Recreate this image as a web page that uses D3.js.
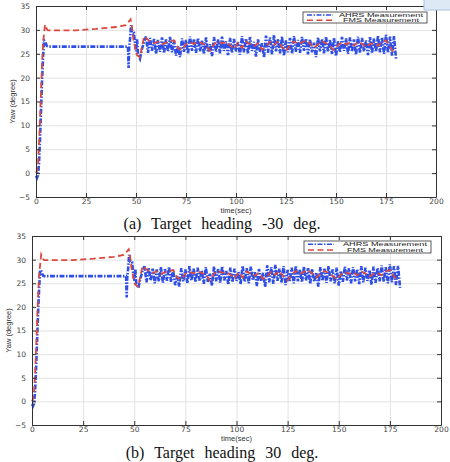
<!DOCTYPE html>
<meta charset="utf-8">
<html>
<head>
  <title>Yaw measurement</title>
  <style>
    body { margin: 0; background: #fff; }
    svg { display: block; }
    .tick text { font-family: 'DejaVu Sans', sans-serif; font-size: 7.5px; fill: #444; }
    .axis path, .axis line { stroke: #333; }
    .grid line { stroke: #e2e2e2; stroke-width: 1; }
    .grid path { display: none; }
    .caption { font-family: 'Liberation Serif', 'Times New Roman', serif; font-size: 16px; fill: #111; word-spacing: 6px; }
    .axislabel { font-family: 'Liberation Sans', Arial, sans-serif; font-size: 7.5px; fill: #333; text-anchor: middle; }
    .legend text { font-family: 'Liberation Sans', Arial, sans-serif; font-size: 5px; fill: #222; text-anchor: middle; }
  </style>
  <script src="https://d3js.org/d3.v7.min.js"></script>
</head>
<body>
<svg width="450" height="462"></svg>
<script>

// tick values
var xTicks = [0, 25, 50, 75, 100, 125, 150, 175, 200];
var yTicks = [-5, 0, 5, 10, 15, 20, 25, 30, 35];

// AHRS measurement (blue)
var ahrsTime = [0, 0.5, 1, 1.5, 2, 2.5, 3, 3.5, 4, 4.5, 5, 5.5, 6, 46, 46.3, 46.6, 47, 47.5, 48, 48.5, 49, 49.5, 50, 50.5, 51, 52, 53, 54,
  55, 56, 57, 58, 59, 60, 61, 62, 63, 64, 65, 66, 67, 68, 69, 70, 71, 72, 73, 74, 75, 76, 77, 78, 79, 80,
  81, 82, 83, 84, 85, 86, 87, 88, 89, 90, 91, 92, 93, 94, 95, 96, 97, 98, 99, 100, 101, 102, 103, 104, 105,
  106, 107, 108, 109, 110, 111, 112, 113, 114, 115, 116, 117, 118, 119, 120, 121, 122, 123, 124, 125, 126,
  127, 128, 129, 130, 131, 132, 133, 134, 135, 136, 137, 138, 139, 140, 141, 142, 143, 144, 145, 146, 147,
  148, 149, 150, 151, 152, 153, 154, 155, 156, 157, 158, 159, 160, 161, 162, 163, 164, 165, 166, 167, 168,
  169, 170, 171, 172, 173, 174, 175, 176, 177, 178, 179, 180];
var ahrsYaw = [-0.6, -1, -0.5, 2, 7, 13, 19, 24, 27.8, 27.6, 27, 26.6, 26.5, 26.5, 22, 26.5, 28, 31, 29.5, 29.2, 29.3, 27, 25.5, 28, 25, 24, 26, 27.5,
  28.6, 25.2, 28.3, 25.6, 28.1, 25.0, 27.9, 25.4, 28.4, 25.1, 28.0, 25.5, 28.5, 25.3, 27.8, 24.6, 26.5, 24.3, 28.2, 25.4, 27.9, 25.0, 28.6, 25.6, 28.1, 25.2,
  28.3, 25.5, 27.7, 24.9, 28.4, 25.3, 27.0, 24.5, 28.5, 25.4, 28.0, 25.1, 28.6, 25.6, 27.6, 24.7, 28.3, 25.2, 28.1, 25.5, 27.4, 24.8, 28.7, 25.3, 28.2,
  25.0, 28.5, 25.6, 27.5, 24.4, 28.0, 25.4, 27.2, 24.2, 28.8, 25.2, 28.4, 24.9, 28.9, 25.5, 28.1, 25.1, 28.6, 24.6, 27.8, 25.3,
  28.3, 25.0, 28.7, 25.4, 27.9, 25.2, 28.5, 25.6, 28.2, 24.9, 28.0, 25.3, 27.3, 24.3, 28.4, 25.5, 28.1, 25.1, 28.6, 25.4, 27.9,
  25.0, 28.3, 24.5, 27.6, 25.3, 28.5, 25.6, 28.2, 25.0, 28.4, 25.4, 28.0, 24.8, 28.6, 25.2, 28.3, 25.5, 27.8, 24.7, 28.5, 25.1,
  28.2, 25.4, 28.8, 25.3, 28.4, 25.0, 29.0, 25.2, 28.6, 24.6, 28.7, 24.0];

// FMS measurement (red)
var fmsTime = [0, 0.5, 1, 1.5, 2, 2.5, 3, 3.5, 4, 4.5, 5, 5.5, 6, 10, 20, 30, 40, 45, 47.3, 48, 48.7, 49.5, 50.3, 51, 52, 53, 54,
  55, 57, 59, 61, 63, 65, 67, 69, 71, 73, 75, 77, 79, 81, 83, 85, 87, 89, 91, 93, 95, 97, 99, 101, 103, 105, 107, 109,
  111, 113, 115, 117, 119, 121, 123, 125, 127, 129, 131, 133, 135, 137, 139, 141, 143, 145, 147, 149, 151, 153, 155, 157,
  159, 161, 163, 165, 167, 169, 171, 173, 175, 177, 179];
var fmsYaw = [0, 0.5, 2, 6, 11, 17, 22.5, 27, 29, 31.1, 30.6, 30.1, 29.9, 29.9, 29.9, 30.2, 30.6, 31, 32.2, 30.5, 28, 26.5, 24.8, 24.6, 24.3, 26.5, 28.6,
  28.3, 27.6, 27.2, 27.5, 27.0, 27.3, 27.6, 27.8, 26.2, 25.8, 27.0, 27.4, 27.1, 27.5, 27.2, 26.8, 25.6, 27.0, 27.6, 27.2, 27.4, 26.8, 26.0, 27.3, 26.2, 27.5, 27.0, 26.6,
  27.2, 25.9, 26.4, 27.5, 26.8, 27.6, 26.4, 25.6, 26.8, 27.6, 27.0, 27.4, 27.8, 27.1, 26.2, 27.0, 27.6, 27.2, 26.5, 25.8, 26.8, 27.4, 27.0, 27.3,
  26.7, 27.5, 27.1, 26.4, 27.0, 27.2, 26.7, 27.5, 27.8, 26.5, 25.2];

var legendLabels = ["AHRS Measurement", "FMS Measurement"];
var captions = ["(a)  Target  heading  -30  deg.", "(b)  Target  heading  30  deg."];

var blue = "#2f4fe6", red = "#d9483f";

var svg = d3.select("svg");

// the two panels are the same plot placed slightly differently
var panels = [
  {left: 36, right: 436, top: 6, bottom: 197, yTitleX: 12, capY: 229, caption: captions[0],
   legend: {x: 303, y: 12, w: 124, h: 11, tx: 381}},
  {left: 32, right: 441, top: 236, bottom: 425, yTitleX: 8, capY: 458, caption: captions[1],
   legend: {x: 304, y: 241, w: 127, h: 12, tx: 385}}
];

var ahrs = ahrsTime.map(function(t, i) { return [t, ahrsYaw[i]]; });
var fms = fmsTime.map(function(t, i) { return [t, fmsYaw[i]]; });

panels.forEach(function(p) {
  var w = p.right - p.left, h = p.bottom - p.top;
  var x = d3.scaleLinear().domain([0, 200]).range([0, w]);
  var y = d3.scaleLinear().domain([-5, 35]).range([h, 0]);

  var g = svg.append("g").attr("transform", "translate(" + p.left + "," + p.top + ")");

  // grid
  g.append("g").attr("class", "grid")
    .call(d3.axisBottom(x).tickValues(xTicks).tickSize(h).tickFormat(""));
  g.append("g").attr("class", "grid")
    .call(d3.axisLeft(y).tickValues(yTicks).tickSize(-w).tickFormat(""));

  var line = d3.line()
    .x(function(d) { return x(d[0]); })
    .y(function(d) { return y(d[1]); });

  g.append("path").datum(ahrs)
    .attr("d", line)
    .attr("fill", "none")
    .attr("stroke", blue)
    .attr("stroke-width", 2.6)
    .attr("stroke-dasharray", "5,1.5,1.5,1.5");

  g.append("path").datum(fms)
    .attr("d", line)
    .attr("fill", "none")
    .attr("stroke", red)
    .attr("stroke-width", 1.8)
    .attr("stroke-dasharray", "6,3.5");

  // axes with inward ticks, matlab style
  g.append("g").attr("class", "axis")
    .attr("transform", "translate(0," + h + ")")
    .call(d3.axisBottom(x).tickValues(xTicks).tickSizeInner(-4).tickSizeOuter(0).tickPadding(2));
  g.append("g").attr("class", "axis")
    .call(d3.axisTop(x).tickValues(xTicks).tickSizeInner(-4).tickSizeOuter(0).tickFormat(""));
  g.append("g").attr("class", "axis")
    .call(d3.axisLeft(y).tickValues(yTicks).tickSizeInner(-4).tickSizeOuter(0).tickPadding(6));
  g.append("g").attr("class", "axis")
    .attr("transform", "translate(" + w + ",0)")
    .call(d3.axisRight(y).tickValues(yTicks).tickSizeInner(-4).tickSizeOuter(0).tickFormat(""));

  g.append("text")
    .attr("class", "axislabel")
    .attr("x", w / 2)
    .attr("y", h + 15.5)
    .text("time(sec)");

  svg.append("text")
    .attr("class", "axislabel")
    .attr("transform", "translate(" + p.yTitleX + "," + (p.top + h / 2) + ") rotate(-90)")
    .attr("dy", "0.35em")
    .text("Yaw (degree)");

  // legend
  var lg = svg.append("g").attr("class", "legend");
  lg.append("rect")
    .attr("x", p.legend.x).attr("y", p.legend.y)
    .attr("width", p.legend.w).attr("height", p.legend.h)
    .attr("fill", "#fff").attr("stroke", "#333").attr("stroke-width", 0.8);
  var rowY = [p.legend.y + p.legend.h * 0.28, p.legend.y + p.legend.h * 0.74];
  lg.append("line")
    .attr("x1", p.legend.x + 4).attr("x2", p.legend.x + 30)
    .attr("y1", rowY[0]).attr("y2", rowY[0])
    .attr("stroke", blue).attr("stroke-width", 1.5).attr("stroke-dasharray", "5,1.5,1.5,1.5");
  lg.append("line")
    .attr("x1", p.legend.x + 4).attr("x2", p.legend.x + 30)
    .attr("y1", rowY[1]).attr("y2", rowY[1])
    .attr("stroke", red).attr("stroke-width", 1.5).attr("stroke-dasharray", "6,3.5");
  legendLabels.forEach(function(s, i) {
    lg.append("text")
      .attr("x", p.legend.tx)
      .attr("y", rowY[i])
      .attr("dy", "0.35em")
      .attr("textLength", i === 0 ? 84 : 76)
      .attr("lengthAdjust", "spacingAndGlyphs")
      .text(s);
  });

  svg.append("text")
    .attr("class", "caption")
    .attr("x", 222)
    .attr("y", p.capY)
    .attr("text-anchor", "middle")
    .text(p.caption);
});

// small light-blue box in the top right corner of the scan
svg.append("rect")
  .attr("x", 424).attr("y", -1).attr("width", 30).attr("height", 11)
  .attr("fill", "#dde9f5").attr("stroke", "#a8c2dc");

</script>
</body>
</html>
